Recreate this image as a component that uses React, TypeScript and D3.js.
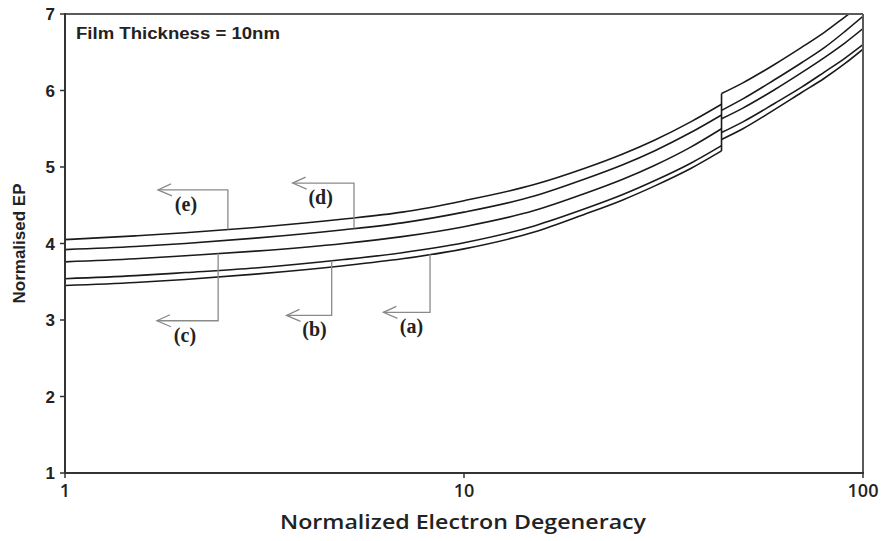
import React from "react";
import * as d3 from "d3";

// Normalised EP versus normalised electron degeneracy, five film curves (a)–(e)
const X_TICKS = [1, 10, 100];
const Y_TICKS = [1, 2, 3, 4, 5, 6, 7];

// Degeneracy samples below and above the discontinuity
const X_LOW = [1, 1.5, 2, 3, 5, 7, 10, 15, 20, 25, 30, 37, 44.2];
const X_HIGH = [44.2, 50, 60, 70, 80, 90, 100];

const SERIES_NAMES = ["a", "b", "c", "d", "e"];

const A_LOW = [3.45, 3.49, 3.53, 3.6, 3.71, 3.8, 3.93, 4.15, 4.38, 4.57, 4.75, 4.98, 5.21];
const B_LOW = [3.54, 3.58, 3.62, 3.68, 3.79, 3.88, 4.01, 4.23, 4.45, 4.64, 4.82, 5.05, 5.28];
const C_LOW = [3.76, 3.8, 3.84, 3.9, 4.0, 4.09, 4.22, 4.43, 4.65, 4.84, 5.02, 5.26, 5.5];
const D_LOW = [3.92, 3.96, 4.0, 4.07, 4.18, 4.27, 4.41, 4.62, 4.84, 5.03, 5.21, 5.45, 5.68];
const E_LOW = [4.05, 4.1, 4.14, 4.21, 4.32, 4.41, 4.56, 4.77, 4.98, 5.17, 5.35, 5.59, 5.82];

const A_HIGH = [5.36, 5.5, 5.75, 5.97, 6.16, 6.35, 6.54];
const B_HIGH = [5.45, 5.59, 5.83, 6.04, 6.24, 6.42, 6.6];
const C_HIGH = [5.63, 5.77, 6.01, 6.23, 6.43, 6.62, 6.81];
const D_HIGH = [5.74, 5.89, 6.14, 6.36, 6.56, 6.77, 6.97];
const E_HIGH = [5.96, 6.1, 6.34, 6.56, 6.76, 6.96, 7.14];

const LOW = [A_LOW, B_LOW, C_LOW, D_LOW, E_LOW];
const HIGH = [A_HIGH, B_HIGH, C_HIGH, D_HIGH, E_HIGH];

// Callouts: which curve, where the leader touches it, the level of the
// horizontal arm and where the arrow points (all in data units)
const ANNOT_LABELS = ["(a)", "(b)", "(c)", "(d)", "(e)"];
const ANNOT_X = [8.22, 4.66, 2.42, 5.3, 2.56];
const ANNOT_LEVEL = [3.1, 3.06, 2.99, 4.79, 4.7];
const ANNOT_TIP = [6.28, 3.59, 1.7, 3.72, 1.71];

const W = 884;
const H = 541;
const M = { left: 65, right: 21, top: 14, bottom: 68 };

const x = d3.scaleLog().domain([1, 100]).range([M.left, W - M.right]);
const y = d3.scaleLinear().domain([1, 7]).range([H - M.bottom, M.top]);

function valueAt(xs: number[], ys: number[], v: number) {
  const i = Math.max(1, Math.min(xs.length - 1, d3.bisectLeft(xs, v)));
  const t = (Math.log(v) - Math.log(xs[i - 1])) / (Math.log(xs[i]) - Math.log(xs[i - 1]));
  return ys[i - 1] + t * (ys[i] - ys[i - 1]);
}

export default function App() {
  const line = d3
    .line<[number, number]>()
    .x((d) => x(d[0]))
    .y((d) => y(d[1]))
    .curve(d3.curveMonotoneX);

  const jumpX = X_LOW[X_LOW.length - 1];
  const jumpTop = d3.max(HIGH, (s) => s[0]) as number;
  const jumpBottom = d3.min(LOW, (s) => s[s.length - 1]) as number;

  const plotRight = W - M.right;
  const plotBottom = H - M.bottom;

  return (
    <svg
      width={W}
      height={H}
      style={{ position: "absolute", left: 0, top: 0, background: "#fff" }}
    >
      <defs>
        <clipPath id="plot-clip">
          <rect x={M.left} y={M.top} width={plotRight - M.left} height={plotBottom - M.top} />
        </clipPath>
      </defs>
      <rect x={0} y={0} width={W} height={H} fill="#fff" />

      {/* curves */}
      <g clipPath="url(#plot-clip)" fill="none" stroke="#1a1a1a" strokeWidth={1.6}>
        {SERIES_NAMES.map((name, i) => (
          <g key={name}>
            <path d={line(X_LOW.map((v, j) => [v, LOW[i][j]]) as [number, number][]) || ""} />
            <path d={line(X_HIGH.map((v, j) => [v, HIGH[i][j]]) as [number, number][]) || ""} />
          </g>
        ))}
        <line x1={x(jumpX)} x2={x(jumpX)} y1={y(jumpTop)} y2={y(jumpBottom)} />
      </g>

      {/* callouts */}
      <g stroke="#8a8a8a" strokeWidth={1.3} fill="none">
        {ANNOT_LABELS.map((lab, i) => {
          const ax = x(ANNOT_X[i]);
          const ay = y(valueAt(X_LOW, LOW[i], ANNOT_X[i]));
          const ly = y(ANNOT_LEVEL[i]);
          const tx = x(ANNOT_TIP[i]);
          return (
            <g key={lab}>
              <polyline points={`${ax},${ay} ${ax},${ly} ${tx},${ly}`} />
              <polyline points={`${tx + 13},${ly - 6} ${tx},${ly} ${tx + 14},${ly + 6}`} />
            </g>
          );
        })}
      </g>
      <g
        fontFamily="'Liberation Serif', 'Times New Roman', serif"
        fontWeight="bold"
        fontSize={20}
        fill="#222"
        textAnchor="middle"
      >
        {ANNOT_LABELS.map((lab, i) => (
          <text key={lab} x={x(ANNOT_TIP[i]) + 28} y={y(ANNOT_LEVEL[i]) + 21}>
            {lab}
          </text>
        ))}
      </g>

      {/* frame */}
      <g fill="none" stroke="#5a5a5a" strokeWidth={2}>
        <line x1={M.left} x2={plotRight} y1={M.top} y2={M.top} />
        <line x1={plotRight} x2={plotRight} y1={M.top} y2={plotBottom} />
      </g>
      <g fill="none" stroke="#333" strokeWidth={2}>
        <line x1={M.left} x2={M.left} y1={M.top - 1} y2={plotBottom} />
        <line x1={M.left} x2={plotRight + 1} y1={plotBottom} y2={plotBottom} />
      </g>

      {/* y axis */}
      <g fontFamily="'Liberation Sans', Arial, sans-serif" fontWeight="bold" fontSize={17} fill="#222">
        {Y_TICKS.map((t) => (
          <g key={t}>
            <line x1={M.left - 5} x2={M.left} y1={y(t)} y2={y(t)} stroke="#333" strokeWidth={1.5} />
            <text x={M.left - 10} y={y(t)} dy="0.36em" textAnchor="end">
              {t}
            </text>
          </g>
        ))}
      </g>
      <text
        transform={`translate(19, ${(M.top + plotBottom) / 2}) rotate(-90)`}
        textAnchor="middle"
        dy="0.36em"
        fontFamily="'Liberation Sans', Arial, sans-serif"
        fontWeight="bold"
        fontSize={17}
        fill="#222"
      >
        Normalised EP
      </text>

      {/* x axis */}
      <g fontFamily="'Open Sans', 'Noto Sans', sans-serif" fontWeight={600} fontSize={18} fill="#222">
        {X_TICKS.map((t) => (
          <g key={t}>
            <line x1={x(t)} x2={x(t)} y1={plotBottom} y2={plotBottom + 5} stroke="#333" strokeWidth={1.5} />
            <text x={x(t)} y={plotBottom + 24} textAnchor="middle">
              {t}
            </text>
          </g>
        ))}
      </g>
      <text
        x={463}
        y={529}
        textAnchor="middle"
        textLength={366}
        lengthAdjust="spacingAndGlyphs"
        fontFamily="'Open Sans', 'Noto Sans', sans-serif"
        fontWeight={600}
        fontSize={20}
        fill="#222"
      >
        Normalized Electron Degeneracy
      </text>

      <text
        x={76}
        y={39}
        textLength={204}
        lengthAdjust="spacingAndGlyphs"
        fontFamily="'Liberation Sans', Arial, sans-serif"
        fontWeight="bold"
        fontSize={16}
        fill="#222"
      >
        Film Thickness = 10nm
      </text>
    </svg>
  );
}
